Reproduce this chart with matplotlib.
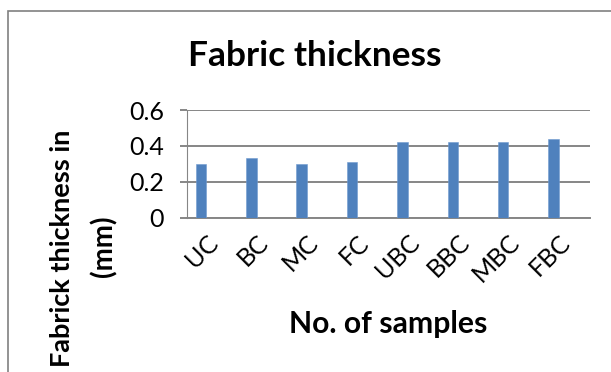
import matplotlib
matplotlib.use("Agg")
import matplotlib.pyplot as plt
from matplotlib.patches import Rectangle
from matplotlib.transforms import ScaledTranslation

categories = ["UC", "BC", "MC", "FC", "UBC", "BBC", "MBC", "FBC"]
thickness = [0.30, 0.33, 0.30, 0.31, 0.42, 0.42, 0.42, 0.44]
yticks = [0, 0.2, 0.4, 0.6]
ytick_labels = ["0", "0.2", "0.4", "0.6"]

plt.rcParams['font.family'] = ['Lato', 'DejaVu Sans']

W, H = 611, 372
fig = plt.figure(figsize=(W / 100, H / 100), dpi=100)
fig.patch.set_facecolor('white')

ax = fig.add_axes([186.7 / W, 1 - 217.7 / H, (590 - 186.7) / W, (217.7 - 110) / H])
x = list(range(len(categories)))
ax.bar(x, thickness, width=0.21, color='#4F81BD', edgecolor='#6F9AD0', linewidth=0.4, zorder=3)
ax.set_xlim(-0.284, 7.724)
ax.set_ylim(0, 0.6)
ax.set_yticks(yticks)
ax.set_yticklabels(ytick_labels, fontsize=18)
ax.yaxis.grid(True, color='#868686', linewidth=1.4, zorder=0)
ax.set_axisbelow(True)
for s in ['top', 'right']:
    ax.spines[s].set_visible(False)
ax.spines['left'].set_color('#868686')
ax.spines['left'].set_linewidth(0.8)
ax.spines['bottom'].set_color('#868686')
ax.spines['bottom'].set_linewidth(1.4)
ax.tick_params(axis='y', length=5.3, width=1.4, color='#868686', pad=11)
ax.tick_params(axis='x', length=0, pad=15)
ax.set_xticks(x)
ax.set_xticklabels(categories, fontsize=18, rotation=45, ha='right', va='center',
                   rotation_mode='anchor')
off = ScaledTranslation(0.13, 0, fig.dpi_scale_trans)
for lab in ax.get_xticklabels():
    lab.set_transform(lab.get_transform() + off)

fig.text(314.3 / W, 1 - 66 / H, "Fabric thickness", ha='center', va='baseline',
         fontsize=25.4, fontweight='bold')
fig.text(388.3 / W, 1 - 333 / H, "No. of samples", ha='center', va='baseline',
         fontsize=21.7, fontweight='bold')
fig.text(62 / W, 1 - 248 / H, "Fabrick thickness in", ha='center', va='center',
         rotation=90, fontsize=19.5, fontweight='bold')
fig.text(104 / W, 1 - 246 / H, "(mm)", ha='center', va='center',
         rotation=90, fontsize=20, fontweight='bold')

fig.add_artist(Rectangle((8.3 / W, -0.1), 1.2, (1 - 10.7 / H) + 0.1,
                         transform=fig.transFigure, fill=False,
                         edgecolor='#808080', linewidth=1.2))

fig.savefig("out.png", dpi=100)
